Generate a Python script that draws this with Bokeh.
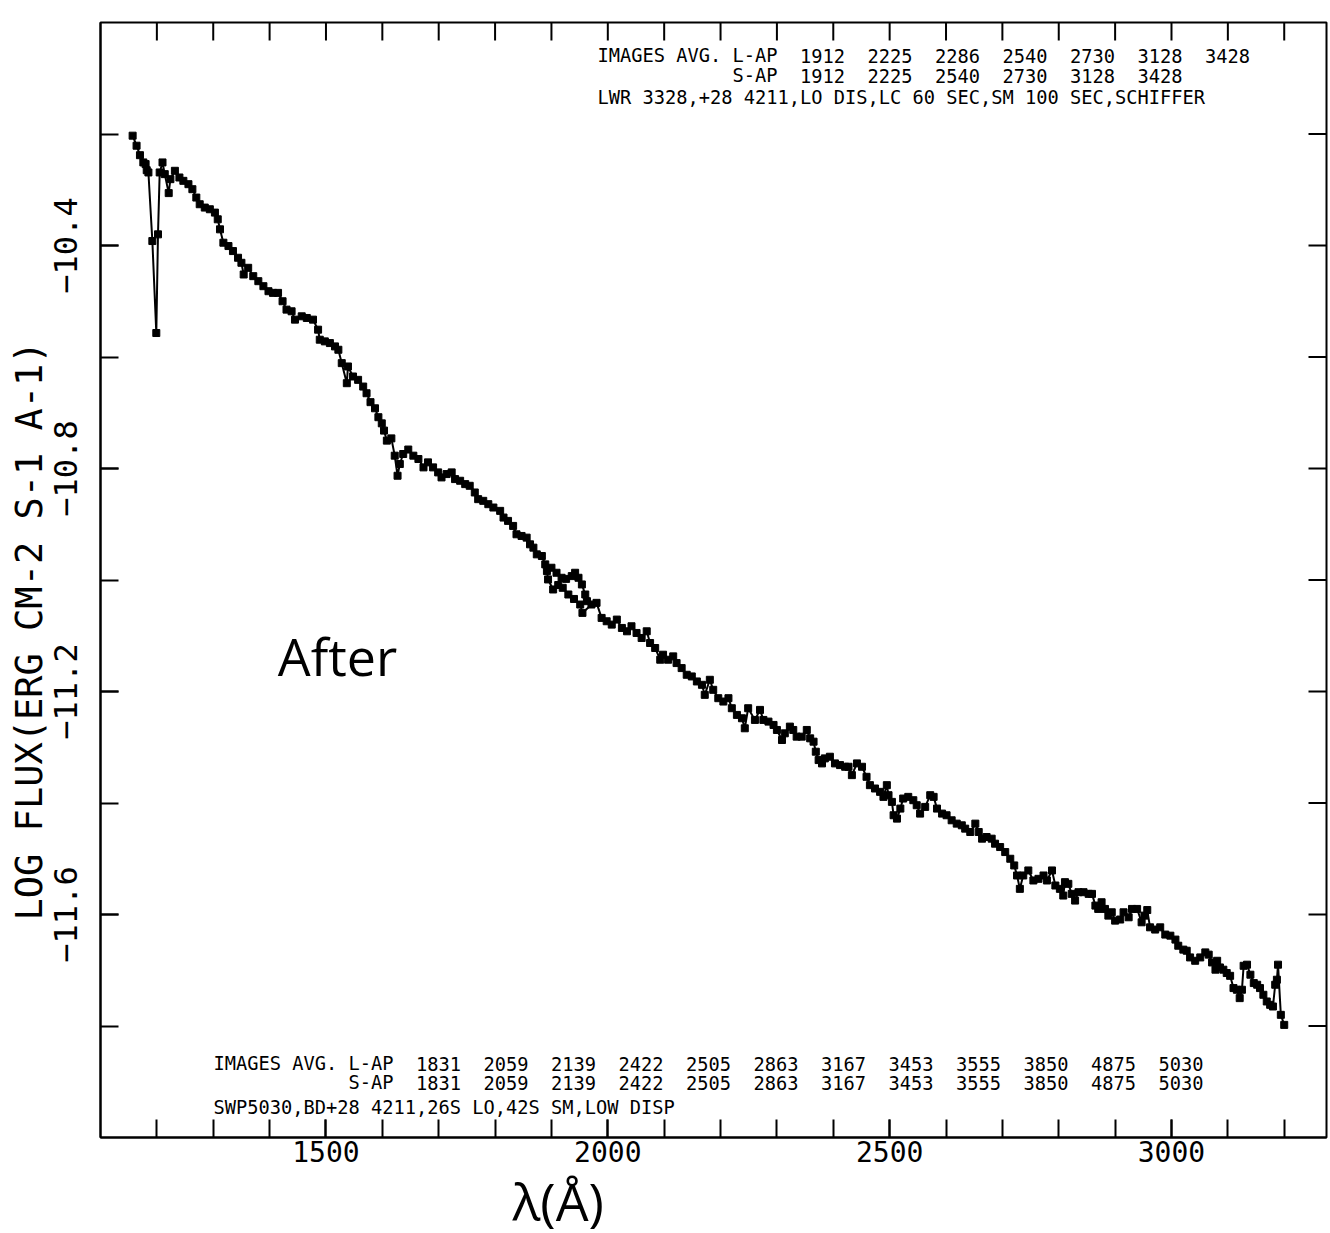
from bokeh.plotting import figure
from bokeh.models import Range1d, FixedTicker, Label, ColumnDataSource, Title
from bokeh.core.properties import value
from bokeh.embed import file_html
from bokeh.resources import INLINE

# ---------------- DATA ----------------
# SWP (short-wavelength camera) spectrum
swp_wavelength = [
    1157, 1164, 1170, 1176, 1180, 1182, 1185, 1192, 1199, 1202,
    1205, 1210, 1214, 1221, 1224, 1232, 1240, 1247, 1256, 1263,
    1270, 1276, 1285, 1294, 1303, 1308, 1312, 1318, 1327, 1335,
    1344, 1350, 1354, 1362, 1371, 1380, 1389, 1398, 1406, 1415,
    1423, 1430, 1439, 1445, 1457, 1466, 1477, 1486, 1489, 1498,
    1507, 1516, 1522, 1528, 1537, 1539, 1548, 1557, 1566, 1572,
    1579, 1587, 1593, 1599, 1603, 1608, 1616, 1622, 1627, 1631,
    1637, 1646, 1655, 1664, 1673, 1681, 1690, 1699, 1705, 1714,
    1723, 1729, 1738, 1747, 1755, 1764, 1770, 1779, 1788, 1797,
    1809, 1815, 1823, 1832, 1838, 1847, 1856, 1862, 1868, 1874,
    1883, 1889, 1900, 1909, 1918, 1926, 1936, 1942, 1948, 1954,
    1960, 1963,
]
swp_logflux = [
    -10.203, -10.221, -10.238, -10.251, -10.254, -10.265, -10.269, -10.392, -10.557, -10.380,
    -10.269, -10.251, -10.272, -10.306, -10.281, -10.266, -10.278, -10.284, -10.290, -10.299,
    -10.314, -10.326, -10.332, -10.335, -10.341, -10.353, -10.371, -10.395, -10.401, -10.410,
    -10.422, -10.431, -10.452, -10.440, -10.455, -10.464, -10.473, -10.482, -10.485, -10.485,
    -10.500, -10.515, -10.518, -10.533, -10.527, -10.530, -10.533, -10.551, -10.569, -10.572,
    -10.575, -10.581, -10.587, -10.611, -10.647, -10.617, -10.635, -10.641, -10.653, -10.665,
    -10.681, -10.692, -10.708, -10.719, -10.732, -10.750, -10.746, -10.777, -10.813, -10.792,
    -10.774, -10.766, -10.777, -10.783, -10.798, -10.789, -10.798, -10.807, -10.816, -10.810,
    -10.807, -10.819, -10.822, -10.828, -10.831, -10.843, -10.855, -10.858, -10.864, -10.870,
    -10.876, -10.888, -10.894, -10.903, -10.918, -10.921, -10.924, -10.936, -10.942, -10.954,
    -10.957, -10.972, -10.978, -10.987, -10.996, -10.998, -10.993, -10.987, -10.996, -11.008,
    -11.026, -11.038,
]

# LWR (long-wavelength camera) spectrum
lwr_wavelength = [
    1892, 1894, 1903, 1912, 1920, 1930, 1940, 1951, 1955, 1971,
    1980, 1989, 1998, 2007, 2016, 2025, 2034, 2042, 2051, 2060,
    2069, 2075, 2084, 2093, 2098, 2107, 2116, 2122, 2131, 2140,
    2149, 2158, 2167, 2172, 2181, 2187, 2196, 2205, 2214, 2220,
    2229, 2238, 2243, 2249, 2261, 2270, 2276, 2285, 2294, 2300,
    2309, 2314, 2323, 2329, 2335, 2344, 2353, 2359, 2365, 2369,
    2374, 2380, 2385, 2394, 2403, 2412, 2421, 2427, 2433, 2442,
    2451, 2459, 2465, 2474, 2483, 2489, 2495, 2498, 2504, 2507,
    2513, 2519, 2524, 2533, 2542, 2548, 2554, 2563, 2572, 2578,
    2584, 2593, 2601, 2610, 2619, 2628, 2634, 2643, 2652, 2658,
    2664, 2672, 2681, 2687, 2696, 2705, 2714, 2721, 2726, 2731,
    2737, 2746, 2755, 2764, 2773, 2779, 2788, 2794, 2802, 2808,
    2811, 2817, 2823, 2829, 2835, 2844, 2853, 2859, 2865, 2870,
    2876, 2882, 2888, 2894, 2900, 2909, 2915, 2924, 2930, 2939,
    2947, 2952, 2957, 2962, 2971, 2980, 2989, 2998, 3007, 3012,
    3021, 3027, 3033, 3042, 3051, 3060, 3066, 3072, 3078, 3081,
    3086, 3092, 3098, 3104, 3110, 3116, 3121, 3125, 3128, 3134,
    3140, 3146, 3152, 3157, 3163, 3169, 3175, 3180, 3184, 3187,
    3189, 3194, 3200,
]
lwr_logflux = [
    -10.984, -10.999, -11.017, -11.009, -11.014, -11.026, -11.034, -11.044, -11.059, -11.044,
    -11.041, -11.068, -11.074, -11.080, -11.071, -11.086, -11.092, -11.083, -11.095, -11.104,
    -11.092, -11.113, -11.122, -11.143, -11.134, -11.143, -11.137, -11.149, -11.158, -11.170,
    -11.173, -11.182, -11.188, -11.206, -11.179, -11.197, -11.212, -11.218, -11.212, -11.230,
    -11.242, -11.248, -11.266, -11.230, -11.251, -11.233, -11.251, -11.254, -11.260, -11.269,
    -11.287, -11.275, -11.263, -11.269, -11.281, -11.281, -11.269, -11.284, -11.290, -11.308,
    -11.323, -11.329, -11.320, -11.317, -11.329, -11.332, -11.335, -11.335, -11.350, -11.329,
    -11.335, -11.353, -11.368, -11.374, -11.380, -11.389, -11.368, -11.386, -11.398, -11.422,
    -11.428, -11.410, -11.392, -11.389, -11.395, -11.404, -11.419, -11.407, -11.386, -11.389,
    -11.410, -11.419, -11.422, -11.431, -11.437, -11.440, -11.446, -11.452, -11.437, -11.452,
    -11.464, -11.461, -11.464, -11.473, -11.479, -11.488, -11.500, -11.512, -11.530, -11.554,
    -11.530, -11.521, -11.539, -11.536, -11.530, -11.539, -11.521, -11.548, -11.554, -11.566,
    -11.542, -11.545, -11.563, -11.575, -11.560, -11.560, -11.563, -11.563, -11.584, -11.590,
    -11.578, -11.590, -11.602, -11.596, -11.611, -11.609, -11.596, -11.605, -11.590, -11.590,
    -11.614, -11.602, -11.592, -11.623, -11.627, -11.623, -11.636, -11.638, -11.645, -11.656,
    -11.663, -11.665, -11.677, -11.683, -11.677, -11.668, -11.672, -11.686, -11.699, -11.683,
    -11.695, -11.699, -11.705, -11.710, -11.732, -11.735, -11.750, -11.735, -11.692, -11.690,
    -11.708, -11.723, -11.726, -11.732, -11.744, -11.756, -11.762, -11.765, -11.726, -11.717,
    -11.690, -11.780, -11.798,
]

x_major_ticks = [1500, 2000, 2500, 3000]
x_minor_ticks = [1200, 1300, 1400, 1500, 1600, 1700, 1800, 1900, 2000, 2100, 2200,
                 2300, 2400, 2500, 2600, 2700, 2800, 2900, 3000, 3100, 3200]
y_major_ticks = [-10.4, -10.8, -11.2, -11.6]
y_minor_ticks = [-10.2, -10.4, -10.6, -10.8, -11.0, -11.2, -11.4, -11.6, -11.8]

top_images_label = "IMAGES AVG. L-AP"
top_lap_images = ["1912", "2225", "2286", "2540", "2730", "3128", "3428"]
top_sap_label = "S-AP"
top_sap_images = ["1912", "2225", "2540", "2730", "3128", "3428"]
top_info = "LWR 3328,+28 4211,LO DIS,LC 60 SEC,SM 100 SEC,SCHIFFER"

bottom_images_label = "IMAGES AVG. L-AP"
bottom_lap_images = ["1831", "2059", "2139", "2422", "2505", "2863", "3167",
                     "3453", "3555", "3850", "4875", "5030"]
bottom_sap_label = "S-AP"
bottom_sap_images = ["1831", "2059", "2139", "2422", "2505", "2863", "3167",
                     "3453", "3555", "3850", "4875", "5030"]
bottom_info = "SWP5030,BD+28 4211,26S LO,42S SM,LOW DISP"

y_axis_title = "LOG FLUX(ERG CM-2 S-1 A-1)"
x_axis_title = "λ(Å)"
note_text = "After"

assert len(swp_wavelength) == len(swp_logflux)
assert len(lwr_wavelength) == len(lwr_logflux)

# ---------------- LAYOUT ----------------
X_RANGE = (1100, 3275)
Y_RANGE = (-12.0, -10.0)
FRAME_LEFT, FRAME_TOP = 100, 22      # picture pixels of the frame corner
FRAME_W, FRAME_H = 1226, 1115
MONO = "DejaVu Sans Mono"
HAND = "Open Sans"
CHAR_W = 11.25
TICK_PX = 18


def sx(px):
    return X_RANGE[0] + (px - FRAME_LEFT) * (X_RANGE[1] - X_RANGE[0]) / FRAME_W


def sy(py):
    return Y_RANGE[1] - (py - FRAME_TOP) * (Y_RANGE[1] - Y_RANGE[0]) / FRAME_H


p = figure(frame_width=FRAME_W, frame_height=FRAME_H,
           x_range=Range1d(*X_RANGE), y_range=Range1d(*Y_RANGE),
           output_backend="svg", toolbar_location=None,
           min_border_left=FRAME_LEFT, min_border_right=2,
           min_border_top=FRAME_TOP, min_border_bottom=0,
           background_fill_color="white", border_fill_color="white")
p.grid.visible = False
p.outline_line_color = "black"
p.outline_line_width = 2


def style_axis(ax, size):
    ax.axis_line_color = "black"
    ax.axis_line_width = 2
    ax.major_tick_in = TICK_PX
    ax.major_tick_out = 0
    ax.minor_tick_in = TICK_PX
    ax.minor_tick_out = 0
    ax.major_tick_line_color = "black"
    ax.minor_tick_line_color = "black"
    ax.major_tick_line_width = 2
    ax.minor_tick_line_width = 2
    ax.major_label_text_font = MONO
    ax.major_label_text_font_size = size
    ax.major_label_text_color = "black"


xb = p.xaxis[0]
xb.ticker = FixedTicker(ticks=x_major_ticks, minor_ticks=x_minor_ticks)
style_axis(xb, "28px")
xb.major_label_standoff = 3

yl = p.yaxis[0]
yl.ticker = FixedTicker(ticks=y_major_ticks, minor_ticks=y_minor_ticks)
style_axis(yl, "32px")
yl.major_label_orientation = "vertical"
yl.major_label_standoff = 24

# inward ticks on the top and right frame edges
dx = TICK_PX * (X_RANGE[1] - X_RANGE[0]) / FRAME_W
dy = TICK_PX * (Y_RANGE[1] - Y_RANGE[0]) / FRAME_H
p.segment(x0=x_minor_ticks, x1=x_minor_ticks,
          y0=[Y_RANGE[1]] * len(x_minor_ticks), y1=[Y_RANGE[1] - dy] * len(x_minor_ticks),
          line_color="black", line_width=2)
p.segment(x0=[X_RANGE[1]] * len(y_minor_ticks), x1=[X_RANGE[1] - dx] * len(y_minor_ticks),
          y0=y_minor_ticks, y1=y_minor_ticks, line_color="black", line_width=2)

# spectra
for wl, fl in ((swp_wavelength, swp_logflux), (lwr_wavelength, lwr_logflux)):
    p.line(wl, fl, line_color="black", line_width=2)
    p.scatter(wl, fl, marker="square", size=7, fill_color="black", line_color="black")

# header / footer texts (plotter-style lines)
tx, ty, tt = [], [], []


def add_tokens(items, x0_px, y_px):
    for text, col in items:
        tx.append(sx(x0_px + col * CHAR_W))
        ty.append(sy(y_px))
        tt.append(text)


add_tokens([(top_images_label, 0)] + [(n, 18 + 6 * i) for i, n in enumerate(top_lap_images)], 597, 55)
add_tokens([(top_sap_label, 12)] + [(n, 18 + 6 * i) for i, n in enumerate(top_sap_images)], 597, 75)
add_tokens([(top_info, 0)], 597, 97)
add_tokens([(bottom_images_label, 0)] + [(n, 18 + 6 * i) for i, n in enumerate(bottom_lap_images)], 213, 1063)
add_tokens([(bottom_sap_label, 12)] + [(n, 18 + 6 * i) for i, n in enumerate(bottom_sap_images)], 213, 1082)
add_tokens([(bottom_info, 0)], 213, 1107)

p.text(x="x", y="y", text="text", source=ColumnDataSource(dict(x=tx, y=ty, text=tt)),
       text_font=value(MONO), text_font_size=value("18.7px"),
       text_align="left", text_baseline="middle", text_color="black")

# handwritten note inside the frame
p.add_layout(Label(x=sx(337), y=sy(655), text=note_text,
                   text_align="center", text_baseline="middle",
                   text_font=HAND, text_font_size="52px", text_color="black"))

# axis titles as side-panel titles so they can be offset along the axis
p.add_layout(Title(text=y_axis_title, align="left", offset=217, standoff=0,
                   vertical_align="bottom", text_font=MONO, text_font_size="37px",
                   text_font_style="normal", text_color="black"), "left")
p.add_layout(Title(text=x_axis_title, align="left", offset=412, standoff=0,
                   vertical_align="top", text_font=HAND, text_font_size="52px",
                   text_font_style="normal", text_color="black"), "below")

open("out.html", "w").write(file_html(p, INLINE))
